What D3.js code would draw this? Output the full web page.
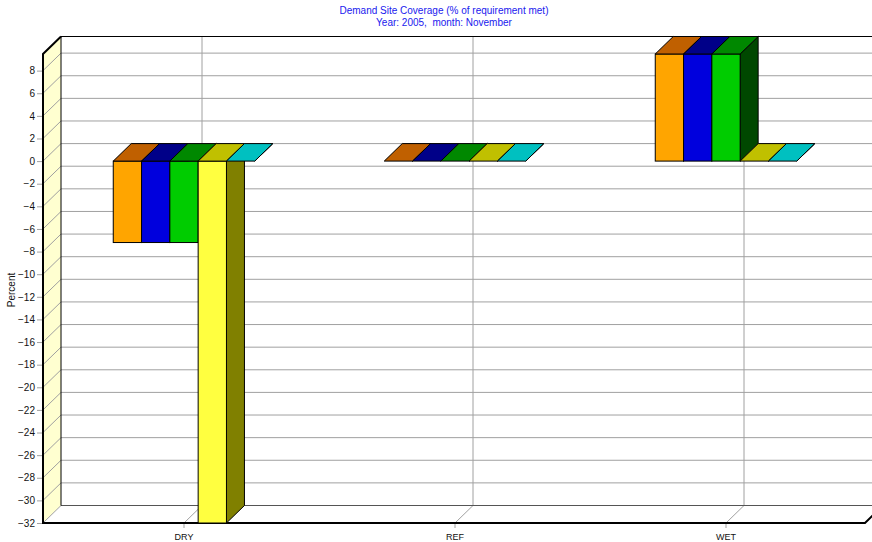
<!DOCTYPE html>
<html>
<head>
<meta charset="utf-8">
<script src="https://cdn.jsdelivr.net/npm/d3@7"></script>
<style>
  html, body { margin: 0; padding: 0; background: #fff; }
  svg { display: block; font-family: "Liberation Sans", Arial, sans-serif; }
</style>
</head>
<body>
<svg id="chart" width="872" height="542"></svg>
<script>
// Demand site coverage, November 2005, by scenario
const categories = ["DRY", "REF", "WET"];
const seriesNames = ["Site 1", "Site 2", "Site 3", "Site 4", "Site 5"];
const site1 = [-7.2, 0, 9.47];
const site2 = [-7.2, 0, 9.47];
const site3 = [-7.2, 0, 9.47];
const site4 = [-32, 0, 0];
const site5 = [0, 0, 0];
const yTicks = d3.range(-32, 9, 2);
const titleLines = ["Demand Site Coverage (% of requirement met)", "Year: 2005,  month: November"];
const yTitle = "Percent";

// front, top and side face colours per series
const faceColors = [
  { front: "#ffa500", top: "#c06000", side: "#804000" },
  { front: "#0000dd", top: "#000088", side: "#000060" },
  { front: "#00cc00", top: "#008800", side: "#004800" },
  { front: "#ffff40", top: "#c0c000", side: "#808000" },
  { front: "#00c8c8", top: "#00c0c0", side: "#008080" }
];

const seriesValues = [site1, site2, site3, site4, site5];

const svg = d3.select("#chart");

// 3D frame geometry
const frontLeft = 43, frontRight = 865;
const dx = 18, dy = 17.5;

const y = d3.scaleLinear()
  .domain([-32, d3.max(seriesValues.flat())])
  .range([523, 54]);

const x = d3.scaleBand()
  .domain(categories)
  .range([48.5, 861.5]);

const groupWidth = 141.5;
const sub = d3.scaleBand()
  .domain(d3.range(seriesNames.length))
  .range([-groupWidth / 2, groupWidth / 2]);

const yTopFront = y.range()[1];
const yBotFront = y.range()[0];
const gridColor = "#a0a0a0";

// left wall
svg.append("polygon")
  .attr("points", [[frontLeft, yTopFront], [frontLeft + dx, yTopFront - dy], [frontLeft + dx, yBotFront - dy], [frontLeft, yBotFront]].join(" "))
  .attr("fill", "#ffffd0");

// floor
svg.append("polygon")
  .attr("points", [[frontLeft, yBotFront], [frontRight, yBotFront], [frontRight + dx, yBotFront - dy], [frontLeft + dx, yBotFront - dy]].join(" "))
  .attr("fill", "#ffffff");

// horizontal gridlines on the back wall and diagonals across the left wall
const grid = svg.append("g");
yTicks.filter(v => v > y.domain()[0]).forEach(v => {
  const yy = y(v);
  grid.append("line")
    .attr("x1", frontLeft + dx).attr("x2", frontRight + dx)
    .attr("y1", yy - dy).attr("y2", yy - dy)
    .attr("stroke", gridColor).attr("stroke-width", 1);
});
yTicks.forEach(v => {
  const yy = y(v);
  grid.append("line")
    .attr("x1", frontLeft).attr("y1", yy)
    .attr("x2", frontLeft + dx).attr("y2", yy - dy)
    .attr("stroke", gridColor).attr("stroke-width", 1);
});

// vertical gridlines on the back wall and down across the floor
categories.forEach(c => {
  const cx = x(c) + x.bandwidth() / 2;
  grid.append("polyline")
    .attr("points", [[cx + dx, yTopFront - dy], [cx + dx, yBotFront - dy], [cx, yBotFront], [cx, yBotFront + 5]].join(" "))
    .attr("fill", "none")
    .attr("stroke", gridColor).attr("stroke-width", 1);
});

// frame edges
svg.append("line")
  .attr("x1", frontLeft + dx).attr("x2", frontRight + dx)
  .attr("y1", yTopFront - dy).attr("y2", yTopFront - dy)
  .attr("stroke", "#000").attr("stroke-width", 1);
svg.append("line")
  .attr("x1", frontLeft + dx).attr("x2", frontRight + dx)
  .attr("y1", yBotFront - dy).attr("y2", yBotFront - dy)
  .attr("stroke", "#555").attr("stroke-width", 1);
svg.append("line")
  .attr("x1", frontLeft + dx).attr("x2", frontLeft + dx)
  .attr("y1", yTopFront - dy).attr("y2", yBotFront - dy)
  .attr("stroke", "#000").attr("stroke-width", 1);
svg.append("polyline")
  .attr("points", [[frontLeft + dx, yTopFront - dy], [frontLeft, yTopFront], [frontLeft, yBotFront], [frontRight, yBotFront], [frontRight + dx, yBotFront - dy]].join(" "))
  .attr("fill", "none")
  .attr("stroke", "#000").attr("stroke-width", 2)
  .attr("stroke-linejoin", "miter");

// y axis ticks and labels
const yAxis = d3.axisLeft(y).tickValues(yTicks).tickSize(5).tickPadding(2).tickFormat(d3.format("d"));
const yAxisG = svg.append("g")
  .attr("transform", `translate(${frontLeft - 1},0)`)
  .call(yAxis);
yAxisG.select(".domain").remove();
yAxisG.selectAll(".tick line").attr("stroke", gridColor);
yAxisG.selectAll(".tick text")
  .attr("fill", "#111")
  .style("font-size", "10px")
  .style("font-family", "'Liberation Sans', Arial, sans-serif");

// category labels
categories.forEach(c => {
  svg.append("text")
    .attr("x", x(c) + x.bandwidth() / 2)
    .attr("y", 540)
    .attr("text-anchor", "middle")
    .attr("fill", "#111")
    .style("font-size", "9px")
    .text(c);
});

// bars: front, side and cap faces, painted left to right
const bars = svg.append("g");
categories.forEach((c, ci) => {
  seriesValues.forEach((vals, si) => {
    const v = vals[ci];
    const col = faceColors[si];
    const x1 = x(c) + x.bandwidth() / 2 + sub(si);
    const w = sub.bandwidth();
    const yT = y(Math.max(v, 0));
    const yB = y(Math.min(v, 0));
    const g = bars.append("g");
    g.append("polygon")
      .attr("points", [[x1 + w, yT], [x1 + w + dx, yT - dy], [x1 + w + dx, yB - dy], [x1 + w, yB]].join(" "))
      .attr("fill", col.side).attr("stroke", "#000").attr("stroke-width", 1);
    g.append("rect")
      .attr("x", x1).attr("y", yT)
      .attr("width", w).attr("height", yB - yT)
      .attr("fill", col.front).attr("stroke", "#000").attr("stroke-width", 1);
    g.append("polygon")
      .attr("points", [[x1, yT], [x1 + w, yT], [x1 + w + dx, yT - dy], [x1 + dx, yT - dy]].join(" "))
      .attr("fill", col.top).attr("stroke", "#000").attr("stroke-width", 1);
  });
});

// titles
titleLines.forEach((t, i) => {
  svg.append("text")
    .attr("x", 444)
    .attr("y", 14 + i * 12)
    .attr("text-anchor", "middle")
    .attr("fill", "#2020ee")
    .style("font-size", "10px")
    .style("white-space", "pre")
    .text(t);
});

svg.append("text")
  .attr("transform", "translate(15,290) rotate(-90)")
  .attr("text-anchor", "middle")
  .attr("fill", "#111")
  .style("font-size", "10px")
  .text(yTitle);
</script>
</body>
</html>
